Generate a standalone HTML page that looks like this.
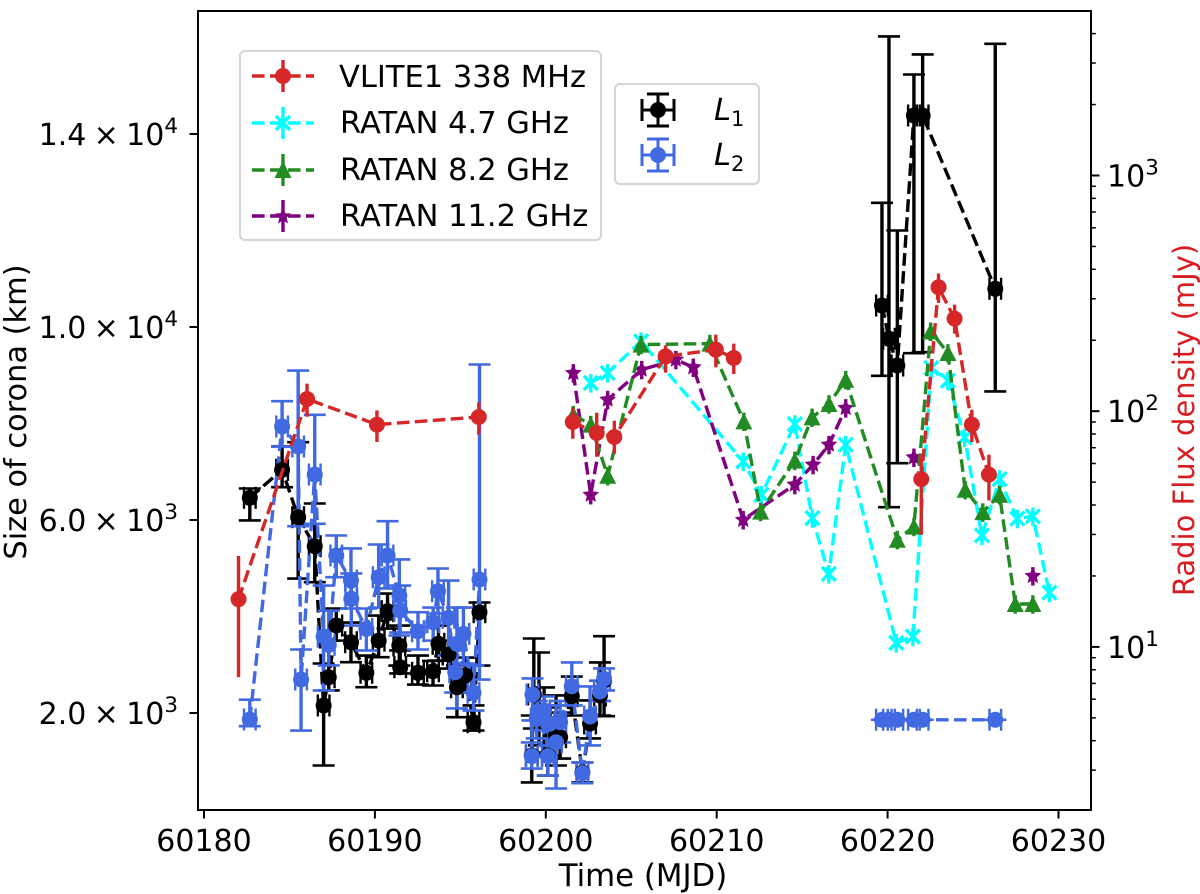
<!DOCTYPE html>
<html lang="en">
<head>
<meta charset="utf-8">
<title>Size of corona and radio flux density versus time</title>
<style>
html,body{margin:0;padding:0;background:#fff;width:1200px;height:894px;overflow:hidden}
svg{display:block}
text{font-family:"DejaVu Sans","Liberation Sans",sans-serif;fill:#000}
</style>
</head>
<body>
<svg id="chart" xmlns="http://www.w3.org/2000/svg" width="1200" height="894" viewBox="0 0 1200 894">
  <rect x="0" y="0" width="1200" height="894" fill="#fff"/>
  <g id="plot"></g>
  <g id="axes"></g>
  <text x="643" y="886" font-size="30.8" text-anchor="middle">Time (MJD)</text>
  <text transform="translate(26,412) rotate(-90)" font-size="30.4" text-anchor="middle">Size of corona (km)</text>
  <text transform="translate(1194,420) rotate(-90)" font-size="29" text-anchor="middle" style="fill:#d81c20">Radio Flux density (mJy)</text>
  <g>
    <rect x="240" y="51" width="361" height="189" rx="5" fill="#fff" fill-opacity="0.8" stroke="#d5d5d5" stroke-width="2"/>
    <g>
      <line x1="252" y1="76" x2="314" y2="76" stroke="#d62728" stroke-width="3.4" stroke-dasharray="12.6 5.4"/>
      <line x1="283" y1="60" x2="283" y2="92" stroke="#d62728" stroke-width="3.4"/>
      <circle cx="283" cy="76" r="8" fill="#d62728"/>
      <text x="339" y="87" font-size="30.5">VLITE1 338 MHz</text>
    </g>
    <g>
      <line x1="252" y1="123" x2="314" y2="123" stroke="#00ffff" stroke-width="3.4" stroke-dasharray="12.6 5.4"/>
      <line x1="283" y1="107" x2="283" y2="139" stroke="#00ffff" stroke-width="3.4"/>
      <path d="M276 116L290 130M290 116L276 130" stroke="#00ffff" stroke-width="3.4" fill="none"/>
      <text x="340" y="133" font-size="30.5">RATAN 4.7 GHz</text>
    </g>
    <g>
      <line x1="252" y1="170" x2="314" y2="170" stroke="#228b22" stroke-width="3.4" stroke-dasharray="12.6 5.4"/>
      <line x1="283" y1="154" x2="283" y2="186" stroke="#228b22" stroke-width="3.4"/>
      <path d="M283 161L291.5 178L274.5 178Z" fill="#228b22"/>
      <text x="340" y="180" font-size="30.5">RATAN 8.2 GHz</text>
    </g>
    <g>
      <line x1="252" y1="216" x2="314" y2="216" stroke="#800080" stroke-width="3.4" stroke-dasharray="12.6 5.4"/>
      <line x1="283" y1="200" x2="283" y2="232" stroke="#800080" stroke-width="3.4"/>
      <path d="M283 208L285.4 213.2L291 213.5L286.6 217.5L288 223.5L283 220.3L278 223.5L279.4 217.5L275 213.5L280.6 213.2Z" fill="#800080"/>
      <text x="340" y="226" font-size="30.5">RATAN 11.2 GHz</text>
    </g>
  </g>
  <g>
    <rect x="615" y="84" width="144" height="100" rx="5" fill="#fff" fill-opacity="0.8" stroke="#d5d5d5" stroke-width="2"/>
    <g stroke="#000" stroke-width="3">
      <path d="M642 110H674M658 94V126M647 94H669M647 126H669M642 99V121M674 99V121" fill="none"/>
      <circle cx="658" cy="110" r="8" fill="#000" stroke="none"/>
      <text x="714" y="120" font-size="30.5" font-style="italic" stroke="none">L<tspan dy="6" font-size="21" font-style="normal">1</tspan></text>
    </g>
    <g stroke="#4169e1" stroke-width="3">
      <path d="M642 155H674M658 139V171M647 139H669M647 171H669M642 144V166M674 144V166" fill="none"/>
      <circle cx="658" cy="155" r="8" fill="#4169e1" stroke="none"/>
      <text x="714" y="165" font-size="30.5" font-style="italic" stroke="none">L<tspan dy="6" font-size="21" font-style="normal">2</tspan></text>
    </g>
  </g>
</svg>
<script>
// ---- Chart data ----
const xTickValues = [60180, 60190, 60200, 60210, 60220, 60230];
const leftTickValues = [2000, 6000, 10000, 14000];
const leftTickMantissas = ["2.0", "6.0", "1.0", "1.4"];
const leftTickExponents = ["3", "3", "4", "4"];
const rightMajorTicks = [10, 100, 1000];
const rightMajorExponents = ["1", "2", "3"];
const rightMinorTicks = [3,4,5,6,7,8,9,20,30,40,50,60,70,80,90,200,300,400,500,600,700,800,900,2000,3000,4000];

const sizeXError = 0.34;
const mjdBase = 60000;

const l1Times = [182.68,184.57,185.51,186.48,187.0,187.3,187.74,188.6,189.5,190.22,190.74,191.43,191.48,192.52,193.4,193.72,194.31,194.8,195.28,195.77,196.12,
  199.18,199.3,199.6,199.9,200.12,200.21,200.6,200.84,201.52,202.14,202.59,203.17,203.41,
  219.67,220.08,220.57,221.54,222.05,226.3];
const l1Sizes = [6460,7040,6058,5457,2156,2742,3813,3467,2833,3500,4110,3400,2949,2833,2866,3434,3213,2534,2777,1809,4089,
  1120,2384,1886,2011,1120,1782,1534,1499,2349,767,1783,2363,2674,
  10446,9756,9202,14384,14384,10792];
const l1Upper = [6653,7524,7613,6342,3026,3500,4166,3875,3191,4020,4476,3813,3296,3191,3080,3813,3500,2985,3150,2156,4290,
  1948,3544,3254,2529,1472,2115,2363,2010,2756,974,2260,3047,3592,
  12574,16021,12000,15233,15648,15870];
const l1Lower = [5990,6680,4787,4711,912,2467,3500,3053,2535,3157,3750,2983,2820,2590,2570,3087,2922,1913,2425,1637,2984,
  560,1679,1327,1181,704,1120,912,1056,1948,560,1472,1948,1933,
  8988,6266,7178,9457,9478,8664];
const l1SegmentStarts = [199.18, 219.67];

const l2Times = [182.68,184.57,185.51,185.68,186.48,187.0,187.3,187.74,188.6,188.62,189.5,190.22,190.74,191.43,191.48,192.52,193.41,193.69,194.31,194.7,194.8,195.18,195.77,196.12,
  199.18,199.22,199.47,199.9,200.12,200.21,200.6,200.84,201.52,202.14,202.59,203.17,203.41,
  219.67,220.08,220.57,221.54,222.05,226.3];
const l2Sizes = [1866,7938,7523,2694,6943,3585,3413,5264,4745,4367,3745,4814,5264,4435,4124,3695,3882,4524,3973,2846,3434,3641,2419,4767,
  1105,2384,1880,2052,1105,1776,1395,1810,2555,753,1928,2446,2708,
  1860,1860,1860,1860,1860,1860];
const l2Upper = [2275,8462,9098,3316,8180,4642,4120,5679,5410,4892,4166,5492,5975,5182,4642,4089,4186,4995,4745,3296,4186,4186,2985,9223,
  1389,2716,2250,2342,1472,2156,2156,2250,3047,974,2550,2670,2923,
  1860,1860,1860,1860,1860,1860];
const l2Lower = [1726,7523,5871,1637,5921,2467,2985,4814,4166,3813,3296,4186,4581,3606,3668,3316,3500,4062,3192,2425,2094,3026,2051,2694,
  849,1845,1472,1638,704,1327,435,1389,2156,546,1327,2250,2467,
  1860,1860,1860,1860,1860,1860];
const l2SegmentStarts = [199.18, 219.67];

const vliteTimes = [182.02,186.03,190.12,196.08,201.58,202.98,204.01,207.01,209.95,211.0,221.97,222.98,223.92,224.93,225.93];
const vliteFlux = [15.94,112.7,87.7,94.5,90,80.8,77.7,170.9,182.4,168.2,51.5,335.6,247,87.7,53.8];
const vliteUpper = [24.3,130.9,100.8,109,103.5,98.5,91.1,190.3,211.2,193.5,65.4,383.7,283.3,101.5,65.4];
const vliteLower = [7.44,94.7,74,79.5,76.4,64.1,66,145.7,153.5,143.9,29.9,288,213.3,74,41.8];
const vliteSegmentStarts = [201.58, 221.97];

const ratan47Times = [202.63,203.62,205.57,211.55,212.62,214.57,215.6,216.56,217.55,220.51,221.48,222.56,223.53,224.51,225.52,226.55,227.59,228.5,229.47];
const ratan47Flux = [131.8,145.3,197.9,61.2,44.2,88.2,35.2,20.4,72.1,10.4,11.06,152.6,134.7,77.4,29.7,51.5,35,35.8,17];

const ratan82Times = [201.61,202.63,203.62,205.57,209.6,211.59,212.57,214.57,215.58,216.57,217.55,220.57,221.54,222.52,223.53,224.54,225.57,226.55,227.47,228.5];
const ratan82Flux = [96.6,87.7,53.2,191.6,193.5,90.5,37.5,61.8,94.1,107.3,136,28.5,32.4,218.2,176.6,46.4,37.3,44.2,15.2,15.2];

const ratan112Times = [201.61,202.63,203.62,205.61,207.61,208.63,211.55,214.57,215.64,216.57,217.55,221.54,228.5];
const ratan112Flux = [145.3,44.2,111.9,150,165.5,153.5,34.6,48.8,59.3,72.1,103.2,63.7,20];
const ratan112SegmentStarts = [221.54, 228.5];

const ratanFractionalError = 0.09;

// ---- Axis functions ----
const NS = "http://www.w3.org/2000/svg";
const frameLeft = 198, frameRight = 1091, frameTop = 11, frameBottom = 810;
function xScale(mjd) { return 204 + 17.09 * (mjd - 60180); }
function timeX(day) { return xScale(mjdBase + day); }
function sizeY(v) { return 713 - (v - 2000) * 0.04825; }
function fluxY(v) { return 175.5 + (3 - Math.log10(v)) * 235.7; }

function make(tag, attrs, parent) {
  const el = document.createElementNS(NS, tag);
  for (const k in attrs) el.setAttribute(k, attrs[k]);
  parent.appendChild(el);
  return el;
}
function seg(parent, x1, y1, x2, y2, color, width) {
  return make("line", {x1: x1, y1: y1, x2: x2, y2: y2, stroke: color, "stroke-width": width}, parent);
}

// Dashed polylines, broken at each listed segment start
function dashed(parent, times, values, yFn, starts, color, width) {
  let pts = [];
  const flush = () => {
    if (pts.length > 1) {
      const line = make("polyline", {points: pts.join(" "), fill: "none", stroke: color,
        "stroke-width": width, "stroke-dasharray": "12.6 5.4", "stroke-linejoin": "round"}, parent);
      
      
    }
    pts = [];
  };
  times.forEach((t, i) => {
    if (starts.indexOf(t) >= 0) flush();
    pts.push(timeX(t).toFixed(1) + "," + yFn(values[i]).toFixed(1));
  });
  flush();
}

function circleMark(parent, cx, cy, color) {
  return make("circle", {cx: cx, cy: cy, r: 8, fill: color}, parent);
}
function triangleMark(parent, cx, cy, color) {
  return make("path", {d: `M${cx} ${cy - 8.5}L${cx + 8.5} ${cy + 8}L${cx - 8.5} ${cy + 8}Z`, fill: color}, parent);
}
function crossMark(parent, cx, cy, color) {
  const s = 7;
  return make("path", {d: `M${cx - s} ${cy - s}L${cx + s} ${cy + s}M${cx + s} ${cy - s}L${cx - s} ${cy + s}`, stroke: color, "stroke-width": 3.4, fill: "none"}, parent);
}
function starMark(parent, cx, cy, color) {
  const pts = [];
  for (let k = 0; k < 10; k++) {
    const r = k % 2 ? 4.2 : 8.8;
    const a = -Math.PI / 2 + k * Math.PI / 5;
    pts.push((cx + r * Math.cos(a)).toFixed(1) + "," + (cy + r * Math.sin(a)).toFixed(1));
  }
  return make("polygon", {points: pts.join(" "), fill: color}, parent);
}

// Size-of-corona series (left axis): bars and lines first, then markers
function sizeBars(parent, times, sizes, upper, lower, starts, color, name) {
  dashed(parent, times, sizes, sizeY, starts, color, 3.4);
  times.forEach((t, i) => {
    const x = timeX(t), y = sizeY(sizes[i]);
    const yu = sizeY(upper[i]), yl = sizeY(lower[i]);
    const xa = timeX(t - sizeXError), xb = timeX(t + sizeXError);
    const g = make("g", {}, parent);
    
    
    seg(g, x, yu, x, yl, color, 3.4);
    seg(g, xa, y, xb, y, color, 3.4);
    seg(g, x - 11, yu, x + 11, yu, color, 2.6);
    seg(g, x - 11, yl, x + 11, yl, color, 2.6);
    seg(g, xa, y - 11, xa, y + 11, color, 2.4);
    seg(g, xb, y - 11, xb, y + 11, color, 2.4);
  });
}
function sizeMarkers(parent, times, sizes, color, name) {
  times.forEach((t, i) => {
    const m = circleMark(parent, timeX(t), sizeY(sizes[i]), color);
    
    
  });
}

// Flux series (right axis)
function fluxSeries(parent, times, flux, upper, lower, starts, color, markFn, name) {
  dashed(parent, times, flux, fluxY, starts, color, 3.4);
  times.forEach((t, i) => {
    const x = timeX(t), y = fluxY(flux[i]);
    const hi = upper ? upper[i] : flux[i] * (1 + ratanFractionalError);
    const lo = lower ? lower[i] : flux[i] * (1 - ratanFractionalError);
    const bar = seg(parent, x, fluxY(hi), x, fluxY(lo), color, 3.4);
    
    
    const m = markFn(parent, x, y, color);
    
    
  });
}

const plot = document.getElementById("plot");
const BLACK = "#000000", BLUE = "#4169e1", RED = "#d62728", CYAN = "#00ffff", GREEN = "#228b22", PURPLE = "#800080";

sizeBars(plot, l1Times, l1Sizes, l1Upper, l1Lower, l1SegmentStarts, BLACK, "l1");
sizeBars(plot, l2Times, l2Sizes, l2Upper, l2Lower, l2SegmentStarts, BLUE, "l2");
sizeMarkers(plot, l1Times, l1Sizes, BLACK, "l1");
sizeMarkers(plot, l2Times, l2Sizes, BLUE, "l2");

fluxSeries(plot, ratan47Times, ratan47Flux, null, null, [], CYAN, crossMark, "ratan-4-7");
fluxSeries(plot, ratan112Times, ratan112Flux, null, null, ratan112SegmentStarts, PURPLE, starMark, "ratan-11-2");
fluxSeries(plot, ratan82Times, ratan82Flux, null, null, [], GREEN, triangleMark, "ratan-8-2");
fluxSeries(plot, vliteTimes, vliteFlux, vliteUpper, vliteLower, vliteSegmentStarts, RED, circleMark, "vlite");

// ---- Axes ----
const axes = document.getElementById("axes");
const frame = make("rect", {x: frameLeft, y: frameTop, width: frameRight - frameLeft, height: frameBottom - frameTop, fill: "none", stroke: "#000", "stroke-width": 2}, axes);



xTickValues.forEach((v) => {
  const x = xScale(v);
  const tick = seg(axes, x, frameBottom, x, frameBottom + 8.5, "#000", 2);
  
  
  const label = make("text", {x: x, y: 851, "font-size": 30, "text-anchor": "middle"}, axes);
  
  
  label.textContent = String(v);
});

leftTickValues.forEach((v, i) => {
  const y = sizeY(v);
  const tick = seg(axes, frameLeft, y, frameLeft - 8.5, y, "#000", 2);
  
  
  const label = make("text", {x: 178, y: y + 11, "font-size": 30, "text-anchor": "end", "word-spacing": "-2.2"}, axes);
  
  
  label.appendChild(document.createTextNode(leftTickMantissas[i] + " \u00d7 10"));
  const sup = make("tspan", {dy: -12, "font-size": 21.5}, label);
  sup.textContent = leftTickExponents[i];
});

rightMajorTicks.forEach((v, i) => {
  const y = fluxY(v);
  const tick = seg(axes, frameRight, y, frameRight + 8.5, y, "#000", 2);
  
  
  const label = make("text", {x: 1107, y: y + 11, "font-size": 30}, axes);
  
  
  label.appendChild(document.createTextNode("10"));
  const sup = make("tspan", {dy: -12, "font-size": 21.5}, label);
  sup.textContent = rightMajorExponents[i];
});

rightMinorTicks.forEach((v) => {
  const y = fluxY(v);
  const tick = seg(axes, frameRight, y, frameRight + 4.8, y, "#000", 1.5);
  
  
});
</script>
</body>
</html>
